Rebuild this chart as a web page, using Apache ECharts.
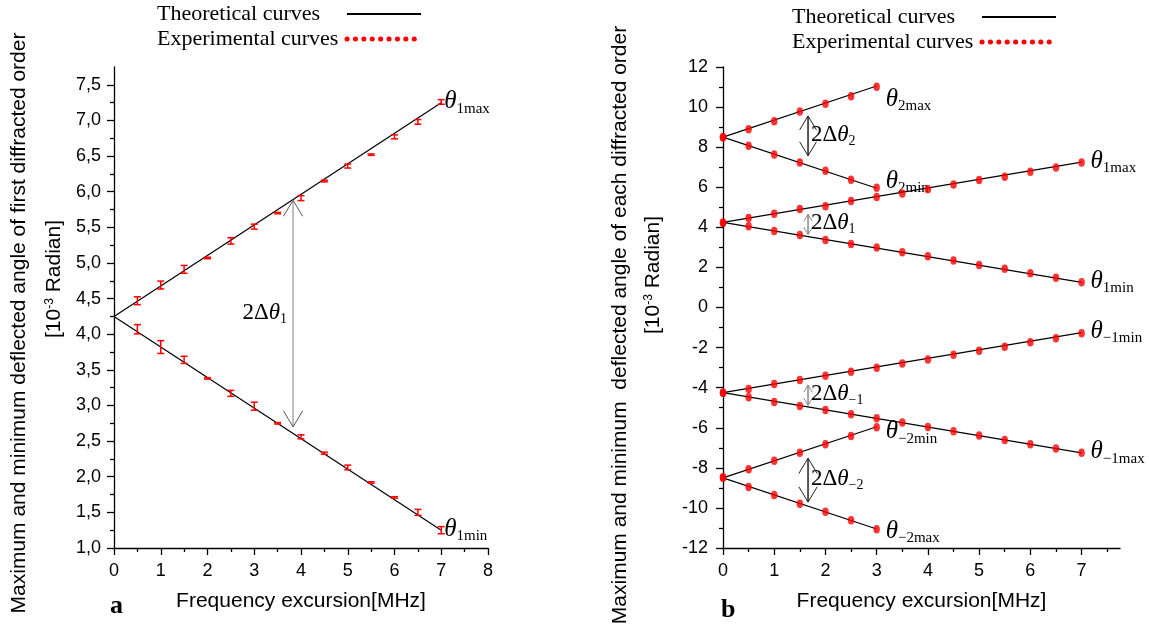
<!DOCTYPE html>
<html>
<head>
<meta charset="utf-8">
<script src="https://cdn.jsdelivr.net/npm/echarts@6/dist/echarts.min.js"></script>
<style>
  html, body { margin: 0; padding: 0; background: #fff; }
  #main { width: 1149px; height: 631px; }
</style>
</head>
<body>
<div id="main"></div>
<script>
// ---------- panel a : first diffracted order, with error bars ----------
const freqA = [0.5, 1, 1.5, 2, 2.5, 3, 3.5, 4, 4.5, 5, 5.5, 6, 6.5, 7]
const exp1maxA = [4.47, 4.69, 4.91, 5.07, 5.31, 5.51, 5.70, 5.91, 6.15, 6.36, 6.52, 6.77, 6.98, 7.26]
const err1maxA = [0.055, 0.055, 0.055, 0.01, 0.045, 0.035, 0.01, 0.035, 0.012, 0.028, 0.01, 0.028, 0.033, 0.033]
const exp1minA = [4.07, 3.82, 3.64, 3.38, 3.17, 2.99, 2.75, 2.56, 2.33, 2.13, 1.92, 1.71, 1.50, 1.25]
const err1minA = [0.065, 0.09, 0.05, 0.01, 0.042, 0.056, 0.01, 0.028, 0.015, 0.033, 0.01, 0.01, 0.042, 0.05]

// theoretical straight lines (end points)
const thX7 = [0, 7]
const thX3 = [0, 3]
const th1max = [4.25, 7.25]
const th1min = [4.25, 1.25]
const th2max = [8.5, 11.05]
const th2min = [8.5, 5.95]
const thM1min = [-4.25, -1.25]
const thM1max = [-4.25, -7.25]
const thM2min = [-8.5, -5.95]
const thM2max = [-8.5, -11.05]

// ---------- panel b : every diffracted order ----------
const freqB7 = [0, 0.5, 1, 1.5, 2, 2.5, 3, 3.5, 4, 4.5, 5, 5.5, 6, 6.5, 7]
const freqB3 = [0, 0.5, 1, 1.5, 2, 2.5, 3]
const exp2max = [8.50, 8.90, 9.29, 9.78, 10.17, 10.54, 11.02]
const exp2min = [8.50, 8.07, 7.63, 7.24, 6.82, 6.37, 5.98]
const exp1max = [4.23, 4.46, 4.68, 4.91, 5.05, 5.31, 5.51, 5.69, 5.90, 6.14, 6.36, 6.52, 6.77, 6.99, 7.24]
const exp1min = [4.23, 4.05, 3.82, 3.62, 3.37, 3.17, 2.99, 2.76, 2.56, 2.34, 2.12, 1.93, 1.71, 1.49, 1.26]
const expM1min = [-4.25, -4.07, -3.82, -3.62, -3.40, -3.20, -3.00, -2.79, -2.59, -2.36, -2.16, -1.96, -1.73, -1.53, -1.29]
const expM1max = [-4.25, -4.48, -4.71, -4.91, -5.11, -5.33, -5.53, -5.74, -5.96, -6.17, -6.39, -6.61, -6.82, -7.04, -7.25]
const expM2min = [-8.48, -8.07, -7.65, -7.25, -6.82, -6.41, -5.98]
const expM2max = [-8.48, -8.96, -9.36, -9.79, -10.19, -10.62, -11.07]

// double arrows 2Δθ
const arrowAX = [3.83]
const arrowATop = [5.88]
const arrowABottom = [2.70]
const arrowASub = ['1']
const arrowBX = [1.66, 1.66, 1.66, 1.66]
const arrowBTop = [9.56, 4.65, -3.87, -7.52]
const arrowBBottom = [7.57, 3.65, -4.88, -9.71]
const arrowBSub = ['2', '1', '\u22121', '\u22122']

// tick labels
const ticksAX = [0, 1, 2, 3, 4, 5, 6, 7, 8]
const ticksAY = [1, 1.5, 2, 2.5, 3, 3.5, 4, 4.5, 5, 5.5, 6, 6.5, 7, 7.5]
const ticksBX = [0, 1, 2, 3, 4, 5, 6, 7]
const ticksBY = [-12, -10, -8, -6, -4, -2, 0, 2, 4, 6, 8, 10, 12]

const SANS = '"Liberation Sans", Arial, sans-serif'
const SERIF = '"Liberation Serif", "Times New Roman", serif'

const chart = echarts.init(document.getElementById('main'))

const pairs = (xs, ys) => xs.map((x, i) => [x, ys[i]])

// rich styles for θ with subscript
const thetaRich = (size, subSize) => ({
  n: { fontFamily: SERIF, fontSize: size, color: '#000', lineHeight: size + 2, padding: [0, 0, 4, 0], verticalAlign: 'top' },
  t: { fontFamily: SERIF, fontStyle: 'italic', fontSize: size, color: '#000', lineHeight: size + 2, padding: [0, 0, 4, 0], verticalAlign: 'top' },
  s: { fontFamily: SERIF, fontSize: subSize, color: '#000', lineHeight: subSize, verticalAlign: 'bottom' }
})

const axisBase = (gridIndex) => ({
  gridIndex,
  type: 'value',
  axisLine: { onZero: false, lineStyle: { color: '#000', width: 1.3 } },
  axisTick: { length: 7, lineStyle: { color: '#000', width: 1.3 } },
  minorTick: { show: true, splitNumber: 2, length: 4, lineStyle: { color: '#000', width: 1.3 } },
  splitLine: { show: false },
  minorSplitLine: { show: false }
})

const labelStyle = { color: '#000', fontFamily: SANS, fontSize: 18 }

function theoryLine(name, xs, ys, axis, sub, dist, dy) {
  return {
    name, type: 'line', xAxisIndex: axis, yAxisIndex: axis,
    data: pairs(xs, ys), symbol: 'none', silent: true,
    lineStyle: { color: '#000', width: 1.2 },
    endLabel: {
      show: true, distance: dist, offset: [0, dy],
      formatter: '{t|\u03b8}{s|' + sub + '}',
      rich: thetaRich(25, 15)
    },
    z: 3
  }
}

function dots(name, xs, ys) {
  return {
    name, type: 'scatter', xAxisIndex: 1, yAxisIndex: 1,
    data: pairs(xs, ys), symbol: 'circle', symbolSize: [6.5, 8.5],
    itemStyle: { color: '#ff0000' }, z: 5, silent: true
  }
}

function errorBars(name, xs, ys, errs) {
  return {
    name, type: 'custom', xAxisIndex: 0, yAxisIndex: 0,
    data: xs.map((x, i) => [x, ys[i], errs[i]]),
    encode: { x: 0, y: 1 },
    z: 5, silent: true,
    renderItem: (params, api) => {
      const x = api.value(0), y = api.value(1), e = api.value(2)
      const hi = api.coord([x, y + e]), lo = api.coord([x, y - e])
      const w = 3.5
      const st = { stroke: '#ff0000', lineWidth: 1.5 }
      return {
        type: 'group',
        children: [
          { type: 'line', shape: { x1: hi[0], y1: hi[1], x2: lo[0], y2: lo[1] }, style: st },
          { type: 'line', shape: { x1: hi[0] - w, y1: hi[1], x2: hi[0] + w, y2: hi[1] }, style: st },
          { type: 'line', shape: { x1: lo[0] - w, y1: lo[1], x2: lo[0] + w, y2: lo[1] }, style: st }
        ]
      }
    }
  }
}

function arrows(name, axis, xs, tops, bottoms, subs, colors, side) {
  return {
    name, type: 'custom', xAxisIndex: axis, yAxisIndex: axis,
    data: xs.map((x, i) => [x, tops[i], bottoms[i]]),
    encode: { x: 0, y: [1, 2] },
    z: 4, silent: true,
    renderItem: (params, api) => {
      const x = api.value(0)
      const a = api.coord([x, api.value(1)]), b = api.coord([x, api.value(2)])
      const len = b[1] - a[1]
      const hl = Math.min(16, len * 0.35), hw = hl * 0.6
      const c = colors[params.dataIndex]
      const head = { stroke: c.head, lineWidth: 1, fill: null }
      const midY = (a[1] + b[1]) / 2
      const text = '{n|2\u0394}{t|\u03b8}{s|' + subs[params.dataIndex] + '}'
      return {
        type: 'group',
        children: [
          { type: 'line', shape: { x1: a[0], y1: a[1], x2: b[0], y2: b[1] }, style: { stroke: c.shaft, lineWidth: 1.5 } },
          { type: 'polyline', shape: { points: [[a[0] - hw, a[1] + hl], a, [a[0] + hw, a[1] + hl]] }, style: head },
          { type: 'polyline', shape: { points: [[b[0] - hw, b[1] - hl], b, [b[0] + hw, b[1] - hl]] }, style: head },
          {
            type: 'text', x: side === 'left' ? a[0] - 6 : a[0] + 3, y: midY,
            style: { text, rich: thetaRich(23, 14), align: side === 'left' ? 'right' : 'left', verticalAlign: 'middle' }
          }
        ]
      }
    }
  }
}

const noSymbol = { color: 'rgba(0,0,0,0)', borderColor: 'rgba(0,0,0,0)', borderWidth: 0, opacity: 0 }

const legendBase = (left, top) => ({
  orient: 'vertical', align: 'right', left, top, padding: 0,
  itemWidth: 74, itemHeight: 14, itemGap: 3, selectedMode: false,
  data: [
    { name: 'Theoretical curves', lineStyle: { color: '#000', width: 2 }, itemStyle: noSymbol },
    { name: 'Experimental curves', lineStyle: { color: '#ff0000', width: 5, type: [0.1, 8.3], cap: 'round' }, itemStyle: noSymbol }
  ],
  formatter: name => '{l|' + name + '}',
  textStyle: {
    width: 185,
    rich: { l: { align: 'left', fontFamily: SERIF, fontSize: 22, lineHeight: 24, color: '#000' } }
  }
})

const option = {
  backgroundColor: '#fff',
  animation: false,
  grid: [
    { left: 114, top: 67, width: 374, height: 481 },
    { left: 723, top: 67, width: 397, height: 481 }
  ],
  legend: [legendBase(157, 3), legendBase(792, 6)],
  xAxis: [
    Object.assign(axisBase(0), {
      min: 0, max: 8, interval: 1,
      axisTick: Object.assign(axisBase(0).axisTick, { customValues: ticksAX }),
      axisLabel: Object.assign({ customValues: ticksAX, margin: 14 }, labelStyle),
      name: 'Frequency excursion[MHz]', nameLocation: 'middle', nameGap: 43,
      nameTextStyle: { color: '#000', fontFamily: SANS, fontSize: 21 }
    }),
    Object.assign(axisBase(1), {
      min: 0, max: 7.75, interval: 1,
      axisTick: Object.assign(axisBase(1).axisTick, { customValues: ticksBX }),
      axisLabel: Object.assign({ customValues: ticksBX, margin: 14 }, labelStyle),
      name: 'Frequency excursion[MHz]', nameLocation: 'middle', nameGap: 43,
      nameTextStyle: { color: '#000', fontFamily: SANS, fontSize: 21 }
    })
  ],
  yAxis: [
    Object.assign(axisBase(0), {
      min: 1, max: 7.75, interval: 0.5,
      axisTick: Object.assign(axisBase(0).axisTick, { customValues: ticksAY }),
      axisLabel: Object.assign({ customValues: ticksAY, margin: 13, formatter: v => v.toFixed(1).replace('.', ',') }, labelStyle)
    }),
    Object.assign(axisBase(1), {
      min: -12, max: 12, interval: 2,
      axisTick: Object.assign(axisBase(1).axisTick, { customValues: ticksBY }),
      axisLabel: Object.assign({ customValues: ticksBY, margin: 15 }, labelStyle)
    })
  ],
  graphic: [
    { type: 'text', x: 19.5, y: 323, rotation: Math.PI / 2,
      style: { text: 'Maximum and minimum deflected angle of first diffracted order', fontFamily: SANS, fontSize: 21, fill: '#000', align: 'center', verticalAlign: 'middle' } },
    { type: 'text', x: 54.5, y: 279, rotation: Math.PI / 2,
      style: { text: '[10{sup|-3} Radian]', fontFamily: SANS, fontSize: 21, fill: '#000', align: 'center', verticalAlign: 'middle',
        rich: { sup: { fontFamily: SANS, fontSize: 12, verticalAlign: 'top', lineHeight: 12 } } } },
    { type: 'text', x: 620.5, y: 325, rotation: Math.PI / 2,
      style: { text: 'Maximum and minimum  deflected angle of each diffracted order', fontFamily: SANS, fontSize: 21, fill: '#000', align: 'center', verticalAlign: 'middle' } },
    { type: 'text', x: 653, y: 275, rotation: Math.PI / 2,
      style: { text: '[10{sup|-3} Radian]', fontFamily: SANS, fontSize: 21, fill: '#000', align: 'center', verticalAlign: 'middle',
        rich: { sup: { fontFamily: SANS, fontSize: 12, verticalAlign: 'top', lineHeight: 12 } } } },
    { type: 'text', x: 110, y: 606,
      style: { text: 'a', fontFamily: SERIF, fontWeight: 'bold', fontSize: 26, fill: '#000', align: 'left', verticalAlign: 'middle' } },
    { type: 'text', x: 721, y: 610,
      style: { text: 'b', fontFamily: SERIF, fontWeight: 'bold', fontSize: 26, fill: '#000', align: 'left', verticalAlign: 'middle' } }
  ],
  series: [
    // legend entries only
    { name: 'Theoretical curves', type: 'line', xAxisIndex: 0, yAxisIndex: 0, data: [], symbol: 'none',
      lineStyle: { color: '#000', width: 2 }, itemStyle: { color: '#000' } },
    { name: 'Experimental curves', type: 'line', xAxisIndex: 0, yAxisIndex: 0, data: [], symbol: 'none',
      lineStyle: { color: '#ff0000', width: 5, type: [0.1, 8.3], cap: 'round' }, itemStyle: { color: '#ff0000' } },

    // panel a
    theoryLine('a1max', thX7, th1max, 0, '1max', 3, 0),
    theoryLine('a1min', thX7, th1min, 0, '1min', 3, 0),
    errorBars('a1maxExp', freqA, exp1maxA, err1maxA),
    errorBars('a1minExp', freqA, exp1minA, err1minA),
    arrows('aArrow', 0, arrowAX, arrowATop, arrowABottom, arrowASub,
      [{ shaft: '#aaaaaa', head: '#555555' }], 'left'),

    // panel b
    theoryLine('b2max', thX3, th2max, 1, '2max', 9, 14),
    theoryLine('b2min', thX3, th2min, 1, '2min', 9, -6),
    theoryLine('b1max', thX7, th1max, 1, '1max', 9, 0),
    theoryLine('b1min', thX7, th1min, 1, '1min', 9, 0),
    theoryLine('bM1min', thX7, thM1min, 1, '\u22121min', 9, 0),
    theoryLine('bM1max', thX7, thM1max, 1, '\u22121max', 9, 0),
    theoryLine('bM2min', thX3, thM2min, 1, '\u22122min', 9, 6),
    theoryLine('bM2max', thX3, thM2max, 1, '\u22122max', 9, 3),
    dots('e2max', freqB3, exp2max),
    dots('e2min', freqB3, exp2min),
    dots('e1max', freqB7, exp1max),
    dots('e1min', freqB7, exp1min),
    dots('eM1min', freqB7, expM1min),
    dots('eM1max', freqB7, expM1max),
    dots('eM2min', freqB3, expM2min),
    dots('eM2max', freqB3, expM2max),
    arrows('bArrows', 1, arrowBX, arrowBTop, arrowBBottom, arrowBSub,
      [{ shaft: '#222', head: '#222' }, { shaft: '#888', head: '#888' }, { shaft: '#888', head: '#888' }, { shaft: '#222', head: '#222' }], 'right')
  ]
}

chart.setOption(option)
</script>
</body>
</html>
